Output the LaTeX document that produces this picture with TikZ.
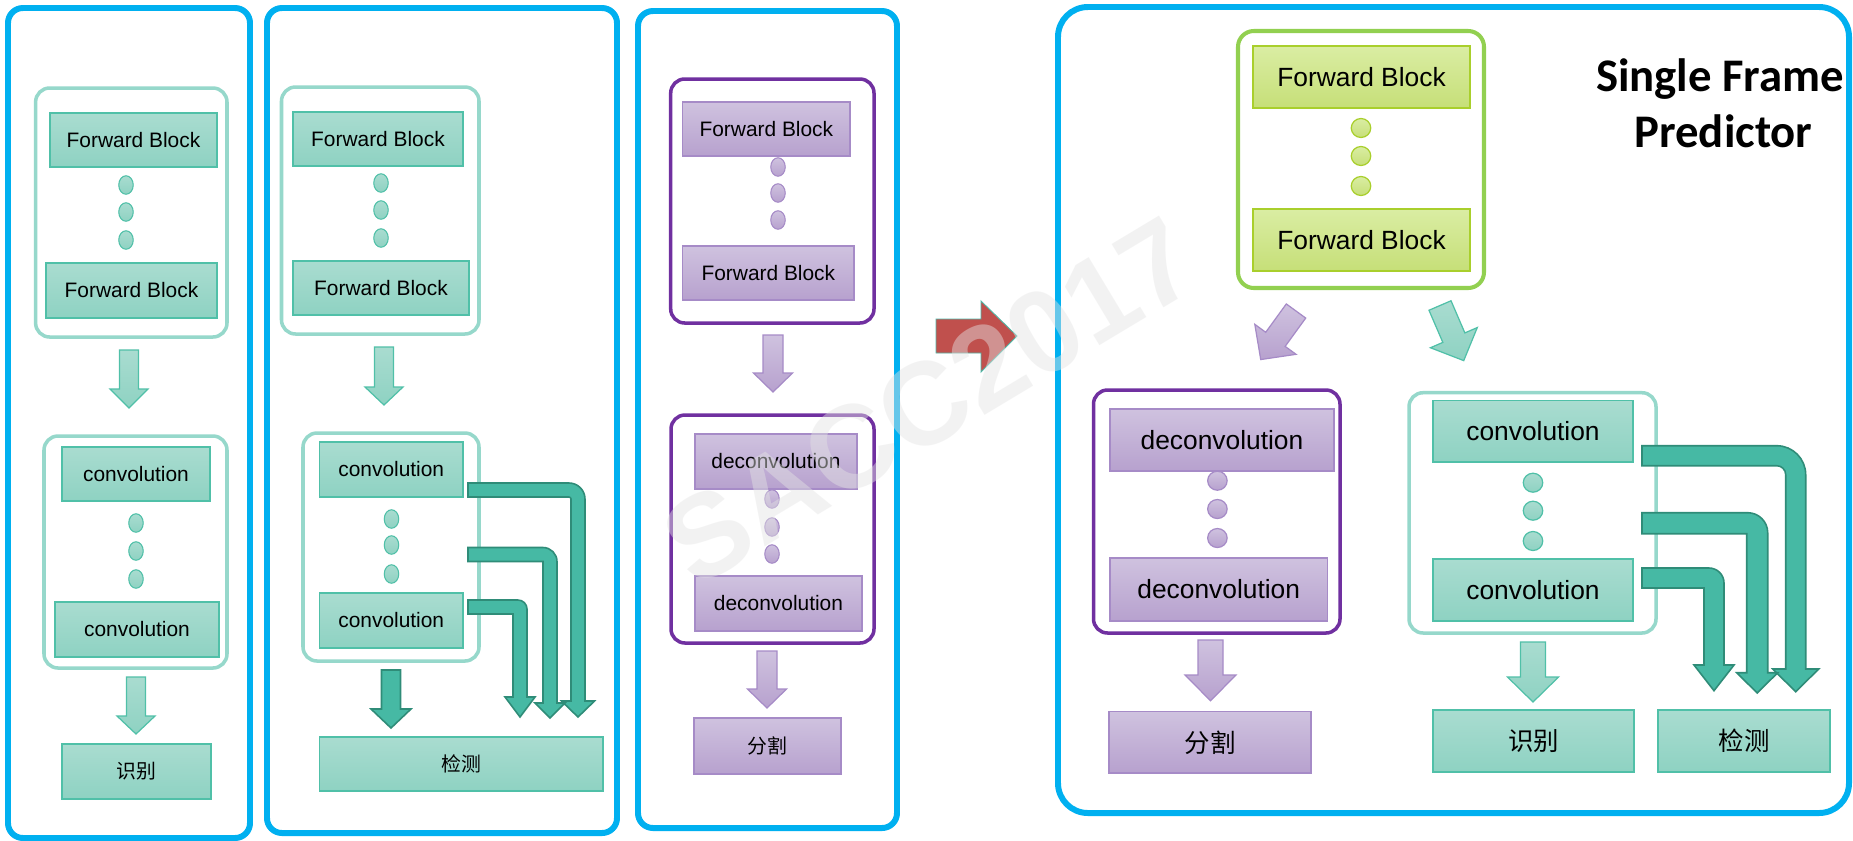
\documentclass[tikz,border=0pt]{standalone}
\usepackage{fontspec}
\setmainfont{Liberation Sans}
\newfontfamily\cjk{Noto Sans CJK SC}
\newfontfamily\carlito{Carlito}
\usetikzlibrary{shapes.geometric}

\definecolor{frameblue}{HTML}{00B0F0}
\definecolor{tealtop}{HTML}{A9DCD0}
\definecolor{tealbot}{HTML}{8ED2C2}
\definecolor{tealline}{HTML}{50C0A8}
\definecolor{tealgrpc}{HTML}{96D8CB}
\definecolor{darktealfill}{HTML}{46B9A4}
\definecolor{darktealline}{HTML}{2F8C78}
\definecolor{purptop}{HTML}{CFC2DF}
\definecolor{purpbot}{HTML}{B7A1CE}
\definecolor{purpline}{HTML}{A68BC7}
\definecolor{purpgrpc}{HTML}{7030A0}
\definecolor{greentop}{HTML}{DAEDA3}
\definecolor{greenbot}{HTML}{C6DF78}
\definecolor{greenline}{HTML}{A9CF2C}
\definecolor{greengrpc}{HTML}{92D050}
\definecolor{redarrow}{HTML}{C0504D}
\definecolor{redoutline}{HTML}{4FB8A8}
\definecolor{wmgray}{HTML}{E4E4E4}

% box given by its corners (pixel units)
\newcommand{\blk}[7]{\node[#2, minimum width={0.02cm*(#5-#3)}, minimum height={0.02cm*(#6-#4)}] (#1) at ({(#3+#5)/2},{(#4+#6)/2}) {#7};}
% three stacked dots
\newcommand{\threedots}[6]{\node[#2] (#1-1) at (#3,#4) {}; \node[#2] (#1-2) at (#3,#5) {}; \node[#2] (#1-3) at (#3,#6) {};}
% straight block arrow pointing down
\newcommand{\downarr}[7]{\path[#1] ({#2-#6},#3) -- ({#2+#6},#3) -- ({#2+#6},#4) -- ({#2+#7},#4) -- (#2,#5) -- ({#2-#7},#4) -- ({#2-#6},#4) -- cycle;}
% bent block arrow: right, then down
\newcommand{\bentarrow}[9]{%
  \pgfmathsetmacro{\bendri}{max(#9-#5,0)}%
  \path[#1] (#2,#3) -- ({#4-#9},#3) .. controls ({#4-0.448*#9},#3) and (#4,{#3+0.448*#9}) .. (#4,{#3+#9})
    -- (#4,#6) -- ({#4-#5/2+#8},#6) -- ({#4-#5/2},#7) -- ({#4-#5/2-#8},#6) -- ({#4-#5},#6)
    -- ({#4-#5},{#3+#5+\bendri}) .. controls ({#4-#5},{#3+#5+0.448*\bendri}) and ({#4-#5-0.448*\bendri},{#3+#5}) .. ({#4-#5-\bendri},{#3+#5})
    -- (#2,{#3+#5}) -- cycle;}

\tikzset{
  panelframe/.style={rectangle, draw=frameblue, line width=3.4pt, rounded corners=8.5pt, inner sep=0pt, outer sep=0pt},
  tealgrp/.style={rectangle, draw=tealgrpc, line width=2pt, rounded corners=8pt, inner sep=0pt},
  purpgrp/.style={rectangle, draw=purpgrpc, line width=2pt, rounded corners=8pt, inner sep=0pt},
  greengrp/.style={rectangle, draw=greengrpc, line width=2.3pt, rounded corners=9pt, inner sep=0pt},
  boxbase/.style={rectangle, inner sep=0pt, outer sep=0pt, line width=0.85pt, text=black},
  tealbox/.style={boxbase, top color=tealtop, bottom color=tealbot, draw=tealline},
  purpbox/.style={boxbase, top color=purptop, bottom color=purpbot, draw=purpline},
  greenbox/.style={boxbase, top color=greentop, bottom color=greenbot, draw=greenline},
  sm/.style={font=\fontsize{11.9pt}{14pt}\selectfont},
  lg/.style={font=\fontsize{15pt}{18pt}\selectfont},
  smcjk/.style={font=\cjk\fontsize{11.3pt}{14pt}\selectfont},
  lgcjk/.style={font=\cjk\fontsize{14.5pt}{17pt}\selectfont},
  smalldot/.style={ellipse, inner sep=0pt, minimum width=0.29cm, minimum height=0.37cm, line width=0.6pt},
  bigdot/.style={ellipse, inner sep=0pt, minimum width=0.39cm, minimum height=0.38cm, line width=0.7pt},
  tealdot/.style={top color=tealtop, bottom color=tealbot, draw=tealline},
  purpdot/.style={top color=purptop, bottom color=purpbot, draw=purpline},
  greendot/.style={top color=greentop, bottom color=greenbot, draw=greenline},
  lightarrow/.style={top color=tealtop, bottom color=tealbot, draw=tealline, line width=0.7pt},
  purparrow/.style={top color=purptop, bottom color=purpbot, draw=purpline, line width=0.7pt},
  darkarrow/.style={fill=darktealfill, draw=darktealline, line width=0.9pt},
}

\begin{document}
\begin{tikzpicture}[x=0.02cm, y=-0.02cm]
\useasboundingbox (0,0) rectangle (1853,840);
\fill[white] (0,0) rectangle (1853,840);

% ---------- outer panels ----------
\blk{p1}{panelframe}{8}{8}{250}{838}{}
\blk{p2}{panelframe}{267}{8}{617}{833}{}
\blk{p3}{panelframe}{638}{11}{897}{828}{}
\blk{p4}{panelframe, rounded corners=17pt}{1058}{7}{1849}{813}{}

% ---------- panel 1: recognition ----------
\blk{g1a}{tealgrp}{35.6}{88}{227}{337}{}
\blk{fb1a}{tealbox, sm}{50}{113}{217}{167}{Forward Block}
\threedots{d1a}{smalldot, tealdot}{126}{185}{212}{240}
\blk{fb1b}{tealbox, sm}{46}{263}{217}{318}{Forward Block}
\downarr{lightarrow}{129}{350}{389}{408}{9.5}{19}
\blk{g1b}{tealgrp}{44}{436}{227}{668}{}
\blk{cv1a}{tealbox, sm}{62}{447}{210}{501}{convolution}
\threedots{d1b}{smalldot, tealdot}{136}{523}{551}{579}
\blk{cv1b}{tealbox, sm}{55}{602}{219}{657}{convolution}
\downarr{lightarrow}{136}{677}{716}{734}{9.5}{19}
\blk{rec1}{tealbox, smcjk}{62}{744}{211}{799}{识别}

% ---------- panel 2: detection ----------
\blk{g2a}{tealgrp}{281.5}{87}{479}{334}{}
\blk{fb2a}{tealbox, sm}{293}{112}{463}{166}{Forward Block}
\threedots{d2a}{smalldot, tealdot}{381}{183}{210}{238}
\blk{fb2b}{tealbox, sm}{293}{261}{469}{315}{Forward Block}
\downarr{lightarrow}{384}{347}{387}{405}{9.5}{19}
\blk{g2b}{tealgrp}{303}{433}{479}{661}{}
\blk{cv2a}{tealbox, sm}{319.5}{442}{463}{497}{convolution}
\threedots{d2b}{smalldot, tealdot}{391.5}{519}{545}{574}
\blk{cv2b}{tealbox, sm}{319.5}{593}{463}{648}{convolution}
\downarr{darkarrow}{391}{670}{709}{728}{9.5}{20}
\blk{det2}{tealbox, smcjk}{319.5}{737}{603}{791}{检测}
\bentarrow{darkarrow}{468}{483}{585}{14}{701}{717}{16.5}{16}
\bentarrow{darkarrow}{468}{547.5}{557}{14}{703}{718}{15}{14}
\bentarrow{darkarrow}{468}{600}{527}{14}{697}{717}{15}{9}

% ---------- panel 3: segmentation ----------
\blk{g3a}{purpgrp}{670.7}{79}{874}{323}{}
\blk{fb3a}{purpbox, sm}{682.7}{102}{850}{156}{Forward Block}
\threedots{d3a}{smalldot, purpdot}{778}{167}{193}{220}
\blk{fb3b}{purpbox, sm}{682.7}{246}{854}{300}{Forward Block}
\downarr{purparrow}{773}{335}{373}{392}{10}{19.5}
\blk{g3b}{purpgrp}{671}{415}{874}{643}{}
\blk{dc3a}{purpbox, sm}{695}{434}{857}{489}{deconvolution}
\threedots{d3b}{smalldot, purpdot}{772}{499}{527}{554}
\blk{dc3b}{purpbox, sm}{695}{576}{862}{631}{deconvolution}
\downarr{purparrow}{767}{651}{689}{708}{10}{19.5}
\blk{seg3}{purpbox, smcjk}{694}{718}{841}{774}{分割}

% ---------- transition arrow ----------
\path[fill=redarrow, draw=redoutline, line width=0.5pt]
  (936,319) -- (981,319) -- (981,301) -- (1017,336) -- (981,372) -- (981,353) -- (936,353) -- cycle;

% ---------- panel 4: single frame predictor ----------
\node[font=\carlito\bfseries\fontsize{26.6pt}{30pt}\selectfont, anchor=base, inner sep=0pt] (ttl1) at (1720,91) {Single Frame};
\node[font=\carlito\bfseries\fontsize{26.6pt}{30pt}\selectfont, anchor=base, inner sep=0pt] (ttl2) at (1723.5,147) {Predictor};

\blk{g4a}{greengrp}{1238}{31}{1484}{288}{}
\blk{fb4a}{greenbox, lg}{1253}{46}{1470}{108}{Forward Block}
\threedots{d4a}{bigdot, greendot}{1361}{128}{156}{186}
\blk{fb4b}{greenbox, lg}{1253}{209}{1470}{271}{Forward Block}

\begin{scope}[shift={(1296,311)}, rotate=234]
  \path[purparrow] (0,-12) -- (35,-12) -- (35,-25.5) -- (60,0) -- (35,25.5) -- (35,12) -- (0,12) -- cycle;
\end{scope}
\begin{scope}[shift={(1440,305.5)}, rotate=-66.7]
  \path[lightarrow] (0,-12) -- (35,-12) -- (35,-25.5) -- (60,0) -- (35,25.5) -- (35,12) -- (0,12) -- cycle;
\end{scope}

\blk{g4b}{purpgrp}{1093.5}{390}{1340}{633}{}
\blk{dc4a}{purpbox, lg}{1110}{409}{1334}{471}{deconvolution}
\threedots{d4b}{bigdot, purpdot}{1217.4}{480.7}{509}{538}
\blk{dc4b}{purpbox, lg}{1110}{558}{1327.5}{621}{deconvolution}
\downarr{purparrow}{1210.5}{640}{675}{700.7}{12.5}{25.5}
\blk{seg4}{purpbox, lgcjk}{1109}{711.7}{1311}{773}{分割}

\blk{g4c}{tealgrp}{1409}{392.7}{1656}{633}{}
\blk{cv4a}{tealbox, lg}{1433}{400.7}{1633}{462}{convolution}
\threedots{d4c}{bigdot, tealdot}{1533}{482.7}{510.7}{541}
\blk{cv4b}{tealbox, lg}{1433}{559}{1633}{621}{convolution}
\downarr{lightarrow}{1533}{642}{677}{702}{12.5}{25.5}
\blk{rec4}{tealbox, lgcjk}{1433}{710}{1634}{772}{识别}
\blk{det4}{tealbox, lgcjk}{1658}{710}{1830}{772}{检测}
\bentarrow{darkarrow}{1642}{445.7}{1805.7}{20}{669}{691.7}{23}{29}
\bentarrow{darkarrow}{1642}{512.7}{1767.7}{21}{672.7}{693}{20.5}{20}
\bentarrow{darkarrow}{1642}{568}{1724}{20}{665}{690.7}{20}{15}

% ---------- watermark ----------
\node[font=\bfseries\fontsize{67pt}{70pt}\selectfont, text=wmgray, text opacity=0.45, rotate=31, inner sep=0pt] (wm) at (930,401) {SACC2017};
\end{tikzpicture}
\end{document}
